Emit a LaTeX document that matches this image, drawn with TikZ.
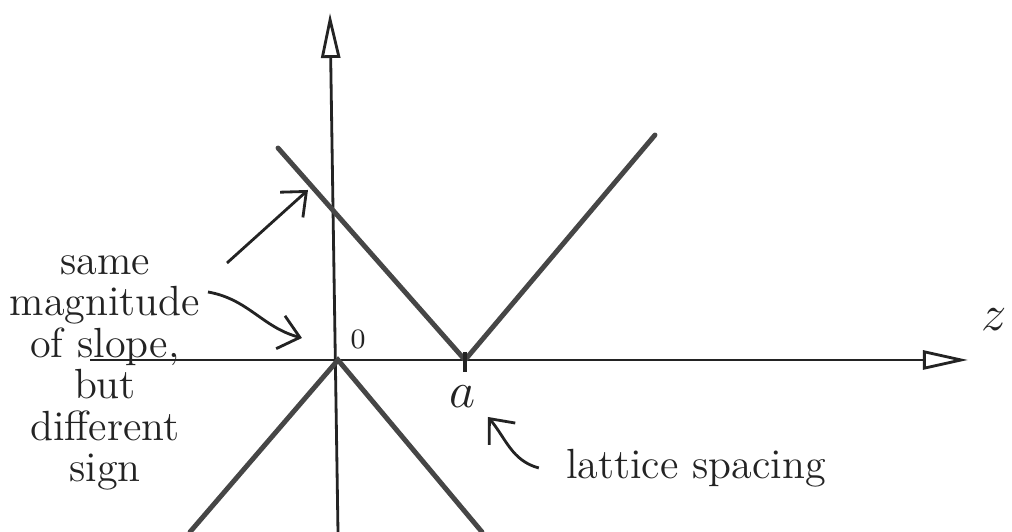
\documentclass[tikz,border=0pt]{standalone}
\usepackage{amsmath}
\usepackage{tikz}
\usetikzlibrary{
    arrows.meta,
    positioning
}
\definecolor{PencilDark}{RGB}{35,35,35}
\definecolor{PencilGray}{RGB}{70,70,70}

\begin{document}
\begin{tikzpicture}[
    >={Triangle[open,length=4.5mm,width=1.9mm]},
    branch/.style={line width=1.4pt, PencilGray, line cap=round},
    pointer/.style={-{Straight Barb[length=2mm,width=3.4mm]}, thick, PencilDark},
    note/.style={font=\fontsize{12}{11.8}\selectfont, align=center, PencilDark}
]

\useasboundingbox (-3.38,-1.72) rectangle (6.74,3.60);

% Axes
\draw[->, thick, PencilDark] (0,-1.72) -- (-0.08,3.47);
\draw[->, thick, PencilDark] (-2.48,0) -- (6.30,0);
\node[font=\Large, PencilDark] (zlabel) at (6.56,0.40) {$z$};

% Slopes
\coordinate (apexA) at (1.27,0);
\coordinate (apexO) at (0,0);
\draw[branch] (-0.60,2.12) -- (apexA) -- (3.17,2.25);
\draw[branch] (-1.48,-1.72) -- (apexO) -- (1.44,-1.72);

% Tick and labels
\draw[line width=1.4pt, PencilDark] (1.27,0.08) -- (1.27,-0.12);
\node[font=\Large, PencilDark] (alabel) at (1.25,-0.37) {$a$};
\node[font=\footnotesize, PencilDark] (olabel) at (0.20,0.21) {$0$};

% Notes
\node[note] (slopenote) at (-2.33,-0.13)
    {same\\magnitude\\of slope,\\but\\different\\sign};
\node[note, font=\large] (spacing) at (3.58,-1.08) {lattice spacing};

% Pointers
\coordinate (slopetail) at (-1.11,0.97);
\coordinate (slopetip) at (-0.30,1.70);
\coordinate (signtail) at (-1.30,0.68);
\coordinate (signtip) at (-0.36,0.22);
\coordinate (spacingtip) at (1.50,-0.57);
\draw[pointer] (slopetail) -- (slopetip);
\draw[pointer] (signtail) to[out=-10, in=165] (signtip);
\draw[pointer] ([xshift=-1.5mm]spacing.west) to[out=165, in=-50] (spacingtip);

\end{tikzpicture}
\end{document}
